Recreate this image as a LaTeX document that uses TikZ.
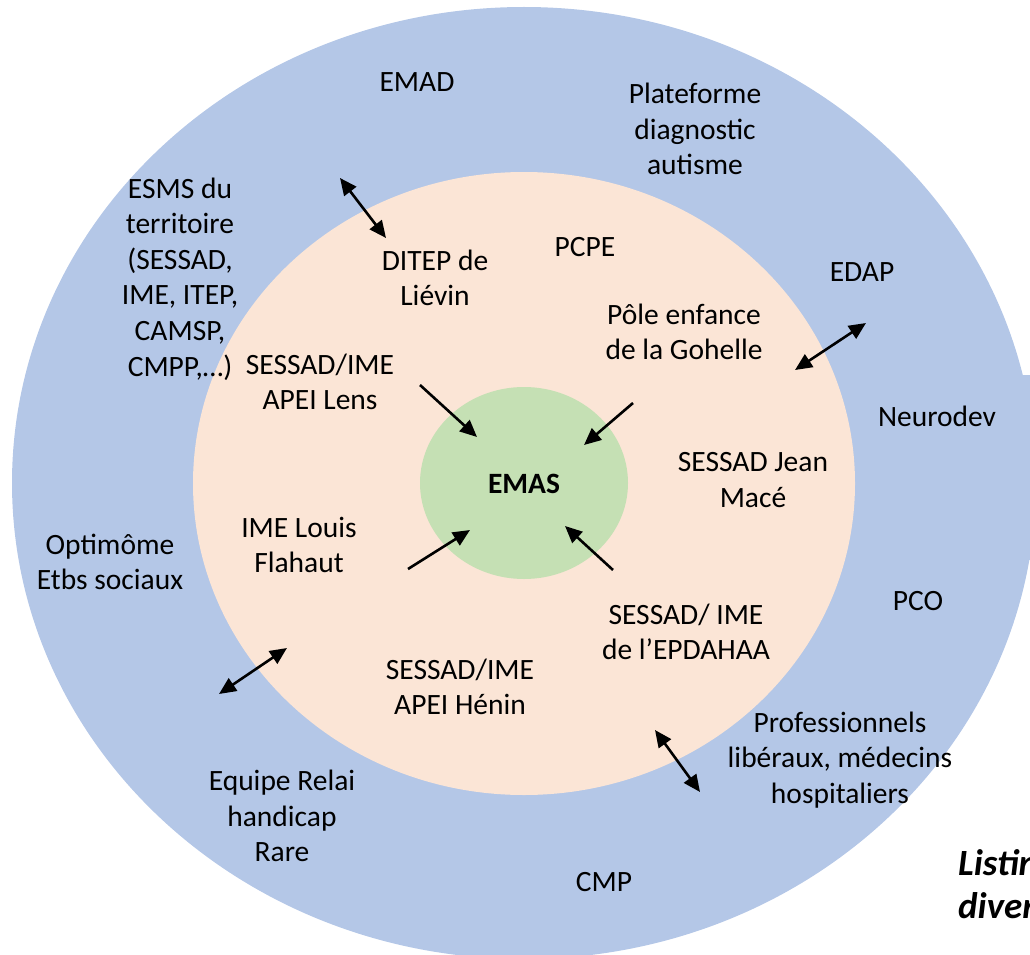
\documentclass[tikz,border=0pt]{standalone}
\usepackage{fontspec}
\setmainfont{Carlito}
\usetikzlibrary{arrows.meta}
\definecolor{outerblue}{HTML}{B4C7E7}
\definecolor{peach}{HTML}{FBE5D6}
\definecolor{lgreen}{HTML}{C5E0B4}
\tikzset{
  lbl/.style={align=center, font=\fontsize{29.5}{35.6}\selectfont, inner sep=0pt},
  boldlbl/.style={lbl, font=\fontsize{29.5}{35.6}\selectfont\bfseries},
  note/.style={align=left, anchor=west, font=\fontsize{37}{43}\selectfont\bfseries\itshape, inner sep=0pt},
  link/.style={line width=2.6pt, {Triangle[length=17pt,width=15pt]}-{Triangle[length=17pt,width=15pt]}},
  feed/.style={line width=2.6pt, -{Triangle[length=17pt,width=15pt]}}
}
\begin{document}
\begin{tikzpicture}[x=1pt,y=-1pt]
\useasboundingbox (0,0) rectangle (1030,955);
\clip (0,0) rectangle (1030,955);
% rings
\fill[outerblue] (524,483) ellipse [x radius=512, y radius=476];
\fill[outerblue] (1012,375) rectangle (1031,560);
\fill[peach] (524,483.5) ellipse [x radius=331, y radius=311.5];
\fill[lgreen] (524,483) ellipse [x radius=104, y radius=96];
% centre
\node[boldlbl] (emas) at (524,484) {EMAS};
% inner ring labels
\node[lbl] (ditep) at (435,278) {DITEP de\\Liévin};
\node[lbl] (pcpe) at (585,247) {PCPE};
\node[lbl] (pole) at (684,332) {Pôle enfance\\de la Gohelle};
\node[lbl] (lens) at (320,382) {SESSAD/IME\\APEI Lens};
\node[lbl] (mace) at (753,480) {SESSAD Jean\\Macé};
\node[lbl] (flahaut) at (299,545) {IME Louis\\Flahaut};
\node[lbl] (epdahaa) at (686,632) {SESSAD/ IME\\de l’EPDAHAA};
\node[lbl] (henin) at (460,687) {SESSAD/IME\\APEI Hénin};
% outer ring labels
\node[lbl] (emad) at (417,82) {EMAD};
\node[lbl] (plateforme) at (695,129) {Plateforme\\diagnostic\\autisme};
\node[lbl] (esms) at (180,279) {ESMS du\\territoire\\(SESSAD,\\IME, ITEP,\\CAMSP,\\CMPP,…)};
\node[lbl] (edap) at (862,272) {EDAP};
\node[lbl] (neurodev) at (937,416) {Neurodev};
\node[lbl] (optimome) at (110,562) {Optimôme\\Etbs sociaux};
\node[lbl] (pco) at (918,601) {PCO};
\node[lbl] (pro) at (840,760) {Professionnels\\libéraux, médecins\\hospitaliers};
\node[lbl] (relai) at (282,816) {Equipe Relai\\handicap\\Rare};
\node[lbl] (cmp) at (604,882) {CMP};
% caption, cut by the page edge as in the reference
\node[note] (listing) at (958,884) {Listing\\divers};
% arrow end points
\coordinate (a1) at (340,178); \coordinate (a2) at (386,238);
\coordinate (b1) at (795,370); \coordinate (b2) at (866,323);
\coordinate (c1) at (219,694); \coordinate (c2) at (287,648);
\coordinate (d1) at (655,730); \coordinate (d2) at (700,792);
\coordinate (e1) at (420,385); \coordinate (e2) at (477,437);
\coordinate (f1) at (633,403); \coordinate (f2) at (584,445);
\coordinate (g1) at (408,569); \coordinate (g2) at (470,530);
\coordinate (h1) at (613,570); \coordinate (h2) at (565,526);
% two-way links across the rings
\draw[link] (a1) -- (a2);
\draw[link] (b1) -- (b2);
\draw[link] (c1) -- (c2);
\draw[link] (d1) -- (d2);
% arrows towards EMAS
\draw[feed] (e1) -- (e2);
\draw[feed] (f1) -- (f2);
\draw[feed] (g1) -- (g2);
\draw[feed] (h1) -- (h2);
\end{tikzpicture}
\end{document}
